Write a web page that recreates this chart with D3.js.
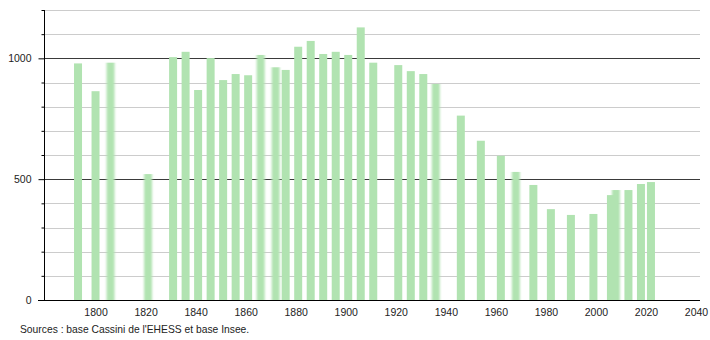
<!DOCTYPE html>
<html>
<head>
<meta charset="utf-8">
<script src="https://cdn.jsdelivr.net/npm/d3@7"></script>
<style>
body { margin: 0; background: #fff; }
text { font-family: "Liberation Sans", Arial, sans-serif; }
</style>
</head>
<body>
<svg id="chart"></svg>
<script>
'use strict'

// census years and population
var years = [1793, 1800, 1806, 1821, 1831, 1836, 1841, 1846, 1851, 1856,
	1861, 1866, 1872, 1876, 1881, 1886, 1891, 1896, 1901, 1906,
	1911, 1921, 1926, 1931, 1936, 1946, 1954, 1962, 1968, 1975,
	1982, 1990, 1999, 2006, 2008, 2013, 2018, 2022];
var population = [979, 864, 982, 521, 1005, 1027, 869, 1001, 910, 935,
	930, 1014, 963, 952, 1048, 1072, 1018, 1027, 1014, 1128,
	982, 972, 947, 935, 894, 763, 659, 597, 530, 476,
	376, 352, 356, 434, 455, 455, 480, 488];
var xTicks = [1800, 1820, 1840, 1860, 1880, 1900, 1920, 1940, 1960, 1980, 2000, 2020, 2040];
var yTicks = [0, 500, 1000];
var gridValues = [100, 200, 300, 400, 500, 600, 700, 800, 900, 1000, 1100, 1200];
// bars that look smeared in the original picture
var softYears = [1806, 1821, 1866, 1872, 1936, 1968, 2008];

var WIDTH = 710,
	HEIGHT = 340;

var svg = d3.select("#chart")
	.attr("width", WIDTH)
	.attr("height", HEIGHT)

var defs = svg.append("defs")
defs.append("filter")
	.attr("id", "soft")
	.attr("x", "-50%").attr("width", "200%")
	.append("feGaussianBlur")
	.attr("stdDeviation", "1.3 0")

var x = d3.scaleLinear()
	.domain([1779.4, 2041.6])
	.range([44, 700])

var y = d3.scaleLinear()
	.domain([0, 1200])
	.range([300, 10])

// grid lines
svg.append("g")
	.selectAll("line")
	.data(gridValues)
	.join("line")
	.attr("x1", 44)
	.attr("x2", 700)
	.attr("y1", d => Math.round(y(d)) + 0.5)
	.attr("y2", d => Math.round(y(d)) + 0.5)
	.style("stroke", d => d % 500 == 0 ? "#3a3a3a" : "#cccccc")
	.style("stroke-width", 1)

// bars
var barW = 8;
svg.append("g")
	.selectAll("rect")
	.data(years)
	.join("rect")
	.attr("x", d => x(d) - barW / 2)
	.attr("width", barW)
	.attr("y", (d, i) => y(population[i]))
	.attr("height", (d, i) => y(0) - y(population[i]))
	.style("fill", "#b1e3b1")
	.attr("filter", d => softYears.indexOf(d) >= 0 ? "url(#soft)" : null)

// y axis
var yAxis = d3.axisLeft(y)
	.tickValues(d3.range(0, 1201, 100))
	.tickSize(3)
	.tickFormat(d => yTicks.indexOf(d) >= 0 ? d : "")

var yG = svg.append("g")
	.attr("transform", "translate(44.5,0)")
	.call(yAxis)
yG.select(".domain").attr("d", "M0,10V300").style("stroke", "#000")
yG.selectAll(".tick line").style("stroke", "#000")
	.attr("x2", d => yTicks.indexOf(d) >= 0 ? -6 : -3)
yG.selectAll(".tick text")
	.attr("x", -13)
	.style("font-size", "10.5px")
	.style("font-family", "'Liberation Sans', Arial, sans-serif")
	.style("fill", "#222")

// x axis
var xAxis = d3.axisBottom(x)
	.tickValues(xTicks)
	.tickSize(0)
	.tickFormat(d3.format("d"))

var xG = svg.append("g")
	.attr("transform", "translate(0,300.5)")
	.call(xAxis)
xG.select(".domain").attr("d", "M38,0H700").style("stroke", "#000")
xG.selectAll(".tick text")
	.attr("y", 8)
	.style("font-size", "10.5px")
	.style("font-family", "'Liberation Sans', Arial, sans-serif")
	.style("fill", "#222")

svg.append("text")
	.attr("x", 20)
	.attr("y", 333)
	.style("font-size", "10.3px")
	.style("fill", "#222")
	.text("Sources : base Cassini de l'EHESS et base Insee.")
</script>
</body>
</html>
